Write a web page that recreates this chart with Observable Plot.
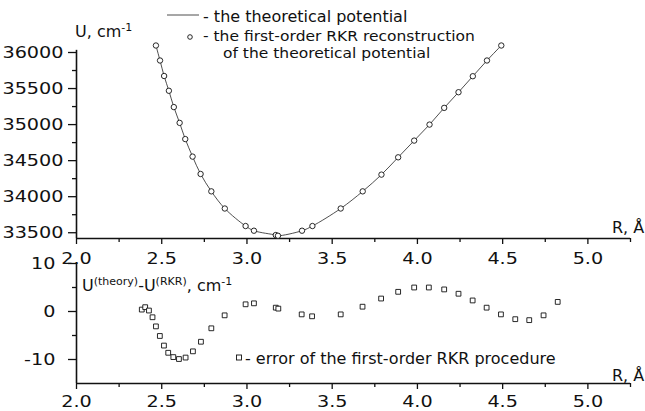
<!DOCTYPE html>
<html>
<head>
<meta charset="utf-8">
<script src="https://cdn.jsdelivr.net/npm/d3@7"></script>
<script src="https://cdn.jsdelivr.net/npm/@observablehq/plot@0.6"></script>
<style>
  html, body { margin: 0; padding: 0; background: #fff; }
  #chart { position: relative; width: 645px; height: 411px; overflow: hidden; font-family: "DejaVu Sans", sans-serif; }
  #chart > svg { position: absolute; left: 0; }
  #overlay { position: absolute; left: 0; top: 0; pointer-events: none; }
</style>
</head>
<body>
<div id="chart"></div>
<script>
// ---- data: theoretical potential / first-order RKR turning points ----
const rTop = [2.466, 2.490, 2.514, 2.542, 2.571, 2.605, 2.638, 2.681, 2.728, 2.791, 2.870, 2.992, 3.041, 3.169, 3.182,
              3.323, 3.384, 3.550, 3.679, 3.789, 3.887, 3.981, 4.071, 4.157, 4.241, 4.325, 4.408, 4.492];
const uTop = [36097, 35889, 35674, 35469, 35243, 35024, 34799, 34556, 34315, 34074, 33836, 33593, 33528, 33468, 33458,
              33528, 33593, 33836, 34074, 34306, 34546, 34778, 35000, 35232, 35449, 35671, 35889, 36097];

// ---- data: error U(theory) - U(RKR) ----
const rErr = [2.383, 2.403, 2.425, 2.446, 2.466, 2.489, 2.513, 2.538, 2.568, 2.601, 2.640, 2.683, 2.730, 2.791, 2.869,
              2.992, 3.041, 3.169, 3.184, 3.321, 3.382, 3.550, 3.678, 3.787, 3.887, 3.981, 4.067, 4.157, 4.241, 4.324,
              4.406, 4.490, 4.574, 4.656, 4.740, 4.823];
const dU   = [0.4, 0.9, 0.2, -1.2, -3.1, -5.1, -7.1, -8.6, -9.5, -9.9, -9.6, -8.3, -6.3, -3.5, -0.8,
              1.5, 1.7, 0.8, 0.6, -0.6, -1.0, -0.6, 1.0, 2.7, 4.1, 5.0, 5.0, 4.6, 3.7, 2.3,
              0.8, -0.6, -1.6, -1.8, -0.8, 2.0];

// ---- ticks ----
const xMajor = [2.0, 2.5, 3.0, 3.5, 4.0, 4.5, 5.0];
const xMinor = [2.25, 2.75, 3.25, 3.75, 4.25, 4.75, 5.25];
const yTopMajor = [33500, 34000, 34500, 35000, 35500, 36000];
const yTopMinor = [33750, 34250, 34750, 35250, 35750];
const yBotMajor = [-10, 0, 10];
const yBotMinor = [-5, 5];

const xDomain = [2, 5.25];
const yTopDomain = [33420, 36000];
const yBotDomain = [-15, 10];

const topData = rTop.map((r, i) => ({R: r, U: uTop[i]}));
const lineData = topData.slice().sort((a, b) => a.R - b.R);
const errData = rErr.map((r, i) => ({R: r, d: dU[i]}));

const ink = "#111";
const fmt = d3.format(".1f");

const topPlot = Plot.plot({
  width: 645, height: 270,
  marginLeft: 76, marginRight: 15, marginTop: 52, marginBottom: 32,
  style: {fontFamily: "DejaVu Sans, sans-serif", fontSize: "16px", color: ink, background: "transparent", overflow: "visible"},
  x: {domain: xDomain},
  y: {domain: yTopDomain},
  marks: [
    Plot.axisY({ticks: yTopMajor, tickSize: 8, tickPadding: 5, tickFormat: d => String(d), label: null, strokeWidth: 1.3}),
    Plot.axisY({ticks: yTopMinor, tickSize: 4, fill: "none", stroke: ink, label: null, strokeWidth: 1.3}),
    Plot.axisX({ticks: xMajor, tickSize: 6, tickPadding: 8, tickFormat: fmt, label: null, strokeWidth: 1.3}),
    Plot.axisX({ticks: xMinor, tickSize: 4, fill: "none", stroke: ink, label: null, strokeWidth: 1.3}),
    Plot.ruleX([xDomain[0]], {y1: yTopDomain[0], y2: 36030, stroke: ink, strokeWidth: 1.6}),
    Plot.ruleY([yTopDomain[0]], {x1: xDomain[0], x2: xDomain[1], stroke: ink, strokeWidth: 1.6}),
    Plot.line(lineData, {x: "R", y: "U", curve: "catmull-rom", stroke: "#222", strokeWidth: 0.8}),
    Plot.dot(topData, {x: "R", y: "U", r: 2.7, stroke: ink, fill: "white", strokeWidth: 0.9})
  ]
});

const botPlot = Plot.plot({
  width: 645, height: 171,
  marginLeft: 76, marginRight: 15, marginTop: 23, marginBottom: 28,
  style: {fontFamily: "DejaVu Sans, sans-serif", fontSize: "16px", color: ink, background: "transparent", overflow: "visible"},
  x: {domain: xDomain},
  y: {domain: yBotDomain},
  marks: [
    Plot.axisY({ticks: yBotMajor, tickSize: 8, tickPadding: 13, tickFormat: d => String(d), label: null, strokeWidth: 1.3}),
    Plot.axisY({ticks: yBotMinor, tickSize: 4, fill: "none", stroke: ink, label: null, strokeWidth: 1.3}),
    Plot.axisX({ticks: xMajor, tickSize: 6, tickPadding: 6, tickFormat: fmt, label: null, strokeWidth: 1.3}),
    Plot.axisX({ticks: xMinor, tickSize: 4, fill: "none", stroke: ink, label: null, strokeWidth: 1.3}),
    Plot.ruleX([xDomain[0]], {y1: yBotDomain[0], y2: yBotDomain[1], stroke: ink, strokeWidth: 1.6}),
    Plot.ruleY([yBotDomain[0]], {x1: xDomain[0], x2: xDomain[1], stroke: ink, strokeWidth: 1.6}),
    Plot.dot(errData, {x: "R", y: "d", symbol: "square", r: 2.7, stroke: ink, fill: "white", strokeWidth: 0.9})
  ]
});

const chart = document.getElementById("chart");
topPlot.style.top = "0px";
botPlot.style.top = "240px";
chart.appendChild(topPlot);
chart.appendChild(botPlot);

// widen tick labels to match the broad typeface of the original
for (const svg of [topPlot, botPlot]) {
  svg.querySelectorAll('g[aria-label$="tick label"] text').forEach(t => {
    const L = t.getComputedTextLength();
    t.setAttribute("textLength", (L * 1.2).toFixed(1));
    t.setAttribute("lengthAdjust", "spacingAndGlyphs");
  });
}

// ---- titles and legends ----
const ns = "http://www.w3.org/2000/svg";
const ov = document.createElementNS(ns, "svg");
ov.setAttribute("id", "overlay");
ov.setAttribute("width", 645);
ov.setAttribute("height", 411);
ov.setAttribute("font-family", "DejaVu Sans, sans-serif");
ov.setAttribute("font-size", "16");
ov.setAttribute("fill", ink);
ov.innerHTML = `
  <text x="75" y="37">U, cm<tspan font-size="11" dy="-6">-1</tspan></text>
  <line x1="167" y1="15" x2="199" y2="15" stroke="#222" stroke-width="0.8"/>
  <text x="203" y="22">- the theoretical potential</text>
  <circle cx="190" cy="37" r="2.3" fill="white" stroke="${ink}" stroke-width="0.9"/>
  <text class="wide" x="203" y="41" font-size="14">- the first-order RKR reconstruction</text>
  <text class="wide" x="223" y="57.5" font-size="14">of the theoretical potential</text>
  <text x="612" y="233">R, Å</text>
  <text x="82" y="291">U<tspan font-size="11" dy="-6">(theory)</tspan><tspan dy="6">-U</tspan><tspan font-size="11" dy="-6">(RKR)</tspan><tspan dy="6">, cm</tspan><tspan font-size="11" dy="-6">-1</tspan></text>
  <rect x="236.5" y="355" width="5" height="5" fill="white" stroke="${ink}" stroke-width="0.9"/>
  <text x="245" y="364">- error of the first-order RKR procedure</text>
  <text x="612" y="381">R, Å</text>
`;
chart.appendChild(ov);
ov.querySelectorAll("text.wide").forEach(t => {
  const L = t.getComputedTextLength();
  t.setAttribute("textLength", (L * 15.5 / 14).toFixed(1));
  t.setAttribute("lengthAdjust", "spacingAndGlyphs");
});
</script>
</body>
</html>
